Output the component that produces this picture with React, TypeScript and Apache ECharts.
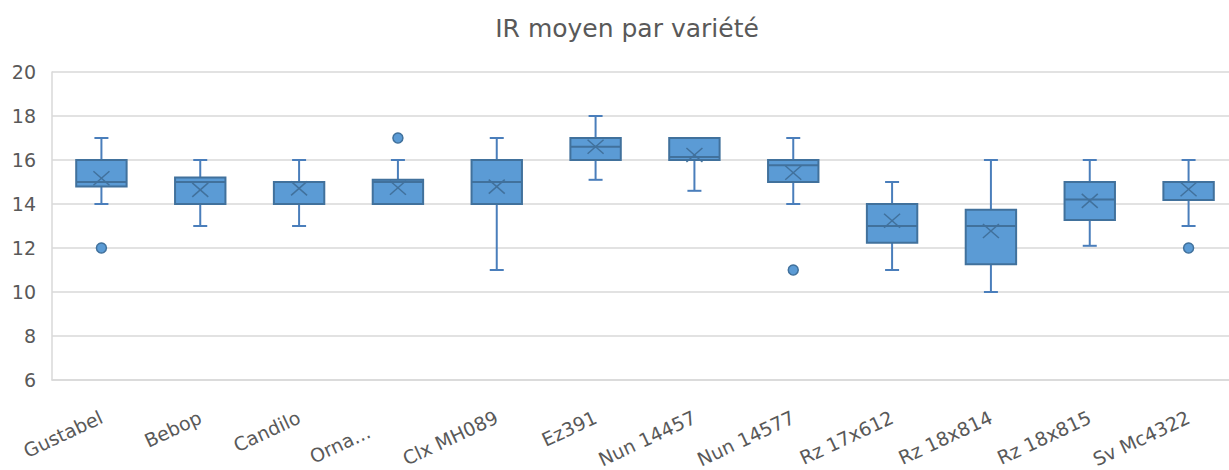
import React, { useEffect, useRef } from "react";
import * as echarts from "echarts";

const categories = ["Gustabel", "Bebop", "Candilo", "Orna...", "Clx MH089", "Ez391", "Nun 14457", "Nun 14577", "Rz 17x612", "Rz 18x814", "Rz 18x815", "Sv Mc4322"];
const whiskerLow = [14, 13, 13, 14, 11, 15.1, 14.6, 14, 11, 10, 12.1, 13];
const q1 = [14.8, 14, 14, 14, 14, 16, 16, 15, 12.24, 11.26, 13.27, 14.18];
const median = [15, 15, 15, 15, 15, 16.6, 16.14, 15.76, 13, 13, 14.2, 15];
const q3 = [16, 15.2, 15, 15.1, 16, 17, 17, 16, 14, 13.74, 15, 15];
const whiskerHigh = [17, 16, 16, 16, 17, 18, 17, 17, 15, 16, 16, 16];
const means = [15.17, 14.64, 14.71, 14.74, 14.79, 16.6, 16.23, 15.42, 13.24, 12.77, 14.14, 14.67];
const outlierCat = [0, 3, 7, 11];
const outlierVal = [12, 17, 11, 12];
const yTicks = [6, 8, 10, 12, 14, 16, 18, 20];
const shiftedLabel = "Orna...";

const FILL = "#5B9BD5";
const EDGE = "#41719C";
const LINE = "#4A7EBB";
const TEXT = "#595959";
const FONT = "'DejaVu Sans', sans-serif";

export default function App() {
  const ref = useRef<HTMLDivElement>(null);
  useEffect(() => {
    document.body.style.margin = "0";
    const chart = echarts.init(ref.current!, null, { renderer: "svg" });
    const boxData = categories.map((_, i) => [i, whiskerLow[i], q1[i], median[i], q3[i], whiskerHigh[i], means[i]]);
    const outData = outlierCat.map((c, i) => [c, outlierVal[i]]);
    chart.setOption({
      animation: false,
      title: {
        text: "IR moyen par variété",
        left: 622,
        textAlign: "center",
        top: 11,
        textStyle: { fontFamily: FONT, fontSize: 25, fontWeight: "normal", color: TEXT },
      },
      grid: { left: 52, right: -9, top: 72, bottom: 90, containLabel: false, outerBoundsMode: "none" },
      xAxis: {
        type: "category",
        data: categories,
        axisLine: { show: true, lineStyle: { color: "#D9D9D9", width: 1.5 } },
        axisTick: { show: false },
        splitLine: { show: false },
        axisLabel: {
          interval: 0,
          rotate: 25,
          margin: 36,
          fontFamily: FONT,
          fontSize: 19,
          color: TEXT,
          formatter: (v: string) => (v === shiftedLabel ? "" : v),
        },
      },
      yAxis: {
        type: "value",
        min: yTicks[0],
        max: yTicks[yTicks.length - 1],
        interval: 2,
        axisLine: { show: true, lineStyle: { color: "#D9D9D9", width: 1.5 } },
        axisTick: { show: false },
        splitLine: { show: true, lineStyle: { color: "#D9D9D9", width: 1.5 } },
        axisLabel: { margin: 16, fontFamily: FONT, fontSize: 19, color: TEXT },
      },
      series: [
        {
          type: "custom",
          data: boxData,
          encode: { x: 0, y: [1, 2, 3, 4, 5] },
          renderItem: (params: any, api: any) => {
            const i = api.value(0);
            const pLo = api.coord([i, api.value(1)]);
            const pQ1 = api.coord([i, api.value(2)]);
            const pMed = api.coord([i, api.value(3)]);
            const pQ3 = api.coord([i, api.value(4)]);
            const pHi = api.coord([i, api.value(5)]);
            const pMean = api.coord([i, api.value(6)]);
            const band = api.size([1, 0])[0];
            const bw = band * 0.51;
            const cx = pMed[0];
            const cap = 7;
            const xs = 8;
            const ys = 7;
            const lineStyle = { stroke: LINE, lineWidth: 2 };
            return {
              type: "group",
              children: [
                { type: "line", shape: { x1: cx, y1: pHi[1], x2: cx, y2: pQ3[1] }, style: lineStyle },
                { type: "line", shape: { x1: cx - cap, y1: pHi[1], x2: cx + cap, y2: pHi[1] }, style: lineStyle },
                { type: "line", shape: { x1: cx, y1: pQ1[1], x2: cx, y2: pLo[1] }, style: lineStyle },
                { type: "line", shape: { x1: cx - cap, y1: pLo[1], x2: cx + cap, y2: pLo[1] }, style: lineStyle },
                {
                  type: "rect",
                  shape: { x: cx - bw / 2, y: pQ3[1], width: bw, height: pQ1[1] - pQ3[1] },
                  style: { fill: FILL, stroke: EDGE, lineWidth: 2 },
                },
                { type: "line", shape: { x1: cx - bw / 2, y1: pMed[1], x2: cx + bw / 2, y2: pMed[1] }, style: { stroke: EDGE, lineWidth: 2 } },
                { type: "line", shape: { x1: pMean[0] - xs, y1: pMean[1] - ys, x2: pMean[0] + xs, y2: pMean[1] + ys }, style: { stroke: EDGE, lineWidth: 1.5 } },
                { type: "line", shape: { x1: pMean[0] - xs, y1: pMean[1] + ys, x2: pMean[0] + xs, y2: pMean[1] - ys }, style: { stroke: EDGE, lineWidth: 1.5 } },
              ],
            };
          },
          z: 2,
        },
        {
          type: "scatter",
          data: outData,
          symbol: "circle",
          symbolSize: 10,
          itemStyle: { color: FILL, borderColor: EDGE, borderWidth: 1.5, opacity: 1 },
          z: 3,
        },
      ],
    });
    const lx = chart.convertToPixel({ xAxisIndex: 0 }, shiftedLabel) as unknown as number;
    const ly = chart.convertToPixel({ yAxisIndex: 0 }, yTicks[0]) as unknown as number;
    chart.setOption({
      graphic: [
        {
          type: "text",
          x: lx - 58,
          y: ly + 64,
          rotation: (25 * Math.PI) / 180,
          style: {
            text: shiftedLabel,
            fontFamily: FONT,
            fontSize: 19,
            lineHeight: 19,
            fill: TEXT,
            align: "center",
            verticalAlign: "middle",
          },
        },
      ],
    });
    return () => chart.dispose();
  }, []);
  return <div ref={ref} style={{ width: 1229, height: 470 }} />;
}
